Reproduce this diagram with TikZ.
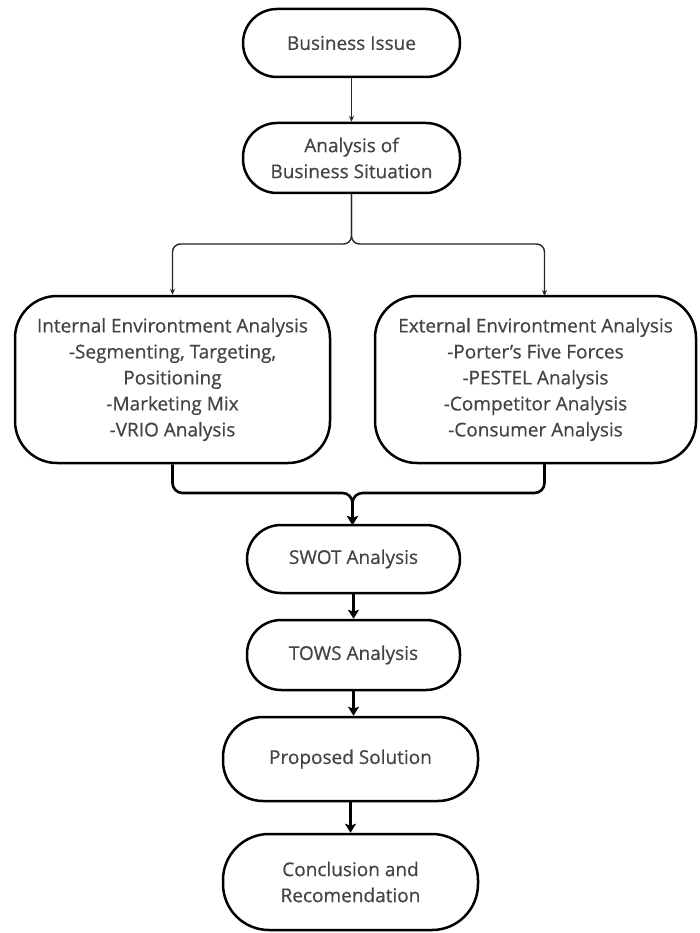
\documentclass[tikz,border=0pt]{standalone}
\usepackage{fontspec}
\setmainfont{Open Sans}
\newfontfamily\boxfont{Open Sans}[FakeBold=0.5]
\usetikzlibrary{arrows.meta}
\definecolor{txt}{HTML}{444444}
\tikzset{
  box/.style={draw=black, line width=2.5pt, rectangle, align=center, text=txt,
    font=\boxfont\fontsize{19}{26}\selectfont, inner sep=0pt},
  pill/.style={box, rounded corners=34pt},
  bigbox/.style={box, rounded corners=42pt},
  thinarrow/.style={draw=black!85, line width=1.4pt, -{Stealth[length=6pt,width=5pt]}},
  thickarrow/.style={draw=black, line width=2.6pt, -{Stealth[length=9pt,width=11pt,inset=2pt]}}
}
\begin{document}
\begin{tikzpicture}[x=1pt,y=-1pt]
\useasboundingbox (0,0) rectangle (699,933);
\fill[white] (0,0) rectangle (699,933);

\node[pill, minimum width=217pt, minimum height=68pt] (bi) at (351.5,43) {Business Issue};
\node[pill, minimum width=217pt, minimum height=70pt] (as) at (351.5,158) {Analysis of\\Business Situation};

\node[bigbox, minimum width=315pt, minimum height=167pt] (ie) at (172.5,379.5)
  {Internal Environtment Analysis\\-Segmenting, Targeting,\\Positioning\\-Marketing Mix\\-VRIO Analysis};
\node[bigbox, minimum width=321pt, minimum height=167pt] (ee) at (535.5,379.5)
  {External Environtment Analysis\\-Porter’s Five Forces\\-PESTEL Analysis\\-Competitor Analysis\\-Consumer Analysis};

\node[pill, minimum width=213pt, minimum height=68pt] (swot) at (353.5,559) {SWOT Analysis};
\node[pill, minimum width=213pt, minimum height=70pt] (tows) at (353.5,655) {TOWS Analysis};
\node[pill, rounded corners=40pt, minimum width=255pt, minimum height=84pt] (ps) at (350.5,759) {Proposed Solution};
\node[pill, rounded corners=46pt, minimum width=255pt, minimum height=96pt] (cr) at (350.5,882) {Conclusion and\\Recomendation};

\coordinate (eein) at (544.5,296);
\coordinate (eeout) at (544.5,463);

\draw[thinarrow] (bi) -- (as);
\draw[thinarrow, rounded corners=8pt] (as.south) -- (351.5,244) -- (172.5,244) -- (ie.north);
\draw[thinarrow, rounded corners=8pt] (as.south) -- (351.5,244) -- (544.5,244) -- (eein);

\draw[thickarrow, rounded corners=10pt] (ie.south) -- (172.5,493) -- (352.5,493) -- (352.5,525);
\draw[thickarrow, rounded corners=10pt] (eeout) -- (544.5,493) -- (352.5,493) -- (352.5,525);

\draw[thickarrow] (swot) -- (tows);
\draw[thickarrow] (tows.south) -- (tows.south |- ps.north);
\draw[thickarrow] (ps) -- (cr);
\end{tikzpicture}
\end{document}
